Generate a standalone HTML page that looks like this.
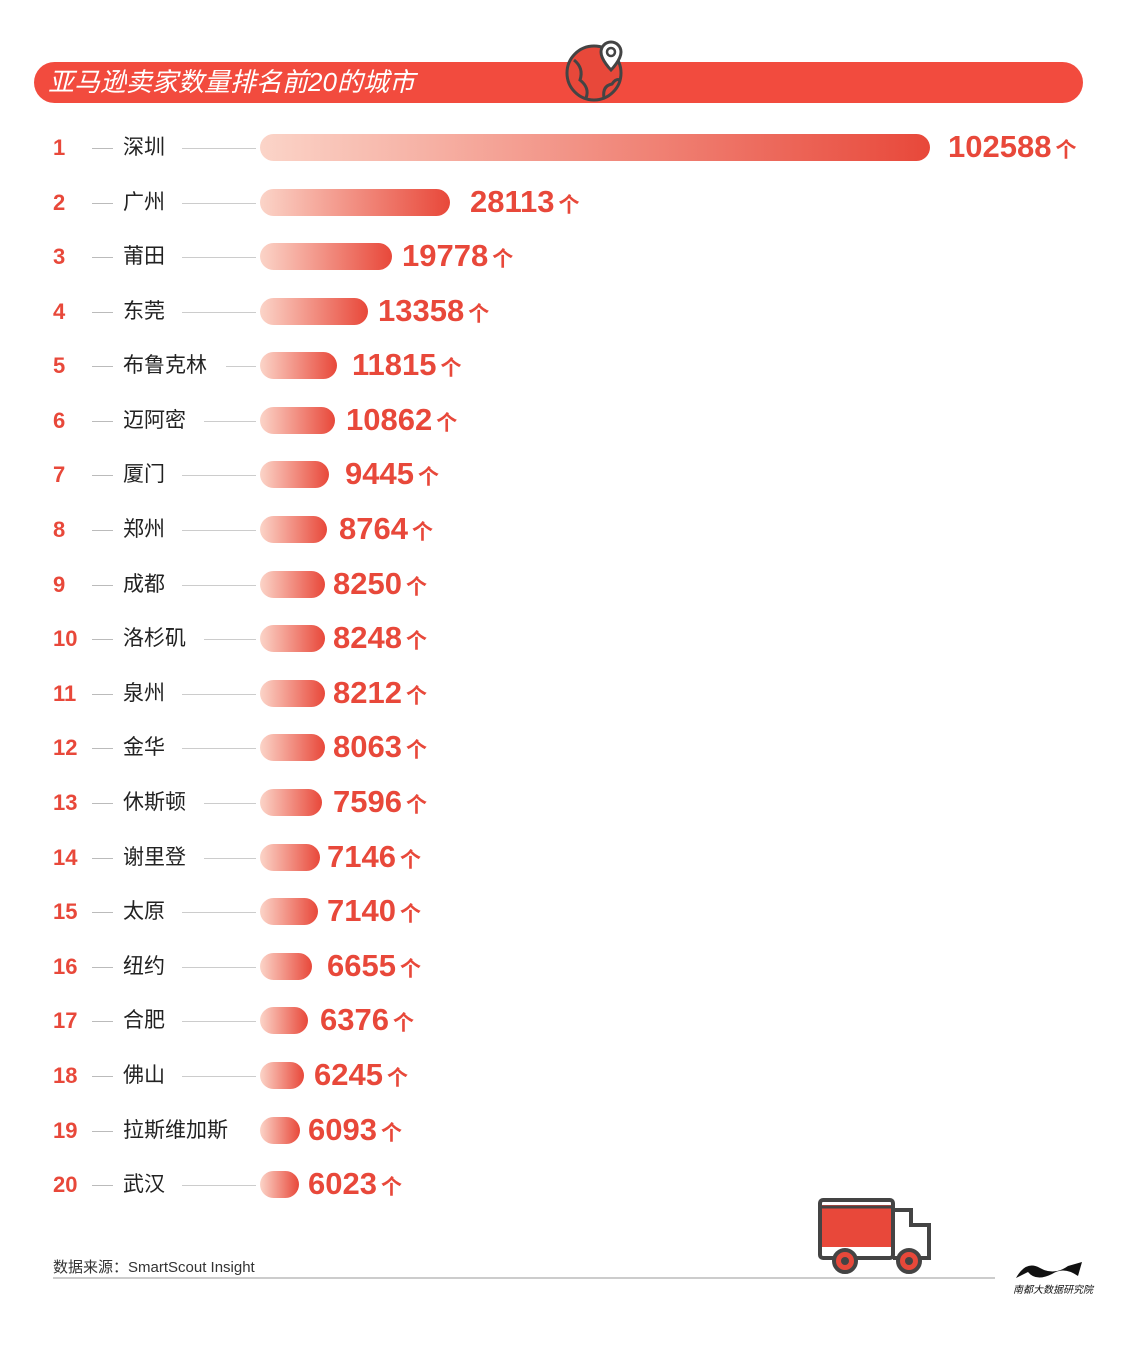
<!DOCTYPE html><html><head><meta charset="utf-8"><style>
body{margin:0;width:1123px;height:1360px;background:#fff;position:relative;overflow:hidden;font-family:"Liberation Sans","Noto Sans CJK SC",sans-serif}
.r{position:absolute;left:0;width:1123px;height:28px}
.n{position:absolute;left:53px;top:0;line-height:28px;font-size:22px;font-weight:bold;color:#e8483a}
.s{position:absolute;left:92px;top:14px;width:21px;border-top:1px solid #bbb}
.c{position:absolute;left:123px;top:0;line-height:28px;font-size:21px;color:#222}
.l{position:absolute;top:14px;right:867px;border-top:1px solid #ccc}
.b{position:absolute;left:260px;top:0;height:27px;border-radius:14px;background:linear-gradient(90deg,#fbd4c8,#e8483a)}
.v{position:absolute;top:-4px;line-height:34px;font-size:31px;font-weight:bold;color:#e8483a;white-space:nowrap}
.v i{font-style:normal;font-size:21px;margin-left:4px}
</style></head><body>
<div style="position:absolute;left:34px;top:62px;width:1049px;height:41px;border-radius:21px;background:#f24b3e"></div>
<div style="position:absolute;left:48px;top:64px;line-height:37px;font-size:26px;color:#fff;font-style:italic">亚马逊卖家数量排名前20的城市</div>
<svg style="position:absolute;left:560px;top:38px" width="70" height="70" viewBox="0 0 70 70"><circle cx="34" cy="35" r="27" fill="#e8483a" stroke="#444" stroke-width="3"/><path d="M14 22 Q24 30 20 42 Q30 50 26 60 M44 60 Q42 48 52 46 Q56 40 60 42" fill="none" stroke="#444" stroke-width="3"/><path d="M51 4 a10 10 0 0 1 10 10 c0 8 -10 18 -10 18 c0 0 -10 -10 -10 -18 a10 10 0 0 1 10 -10z" fill="#fff" stroke="#444" stroke-width="3"/><circle cx="51" cy="14" r="4" fill="none" stroke="#444" stroke-width="2.5"/></svg>

<div class="r" style="top:134px"><span class="n">1</span><span class="s"></span><span class="c">深圳</span><span class="l" style="left:182px;right:auto;width:74px"></span><span class="b" style="width:670px"></span><span class="v" style="left:948px">102588<i>个</i></span></div>
<div class="r" style="top:189px"><span class="n">2</span><span class="s"></span><span class="c">广州</span><span class="l" style="left:182px;right:auto;width:74px"></span><span class="b" style="width:190px"></span><span class="v" style="left:470px">28113<i>个</i></span></div>
<div class="r" style="top:243px"><span class="n">3</span><span class="s"></span><span class="c">莆田</span><span class="l" style="left:182px;right:auto;width:74px"></span><span class="b" style="width:132px"></span><span class="v" style="left:402px">19778<i>个</i></span></div>
<div class="r" style="top:298px"><span class="n">4</span><span class="s"></span><span class="c">东莞</span><span class="l" style="left:182px;right:auto;width:74px"></span><span class="b" style="width:108px"></span><span class="v" style="left:378px">13358<i>个</i></span></div>
<div class="r" style="top:352px"><span class="n">5</span><span class="s"></span><span class="c">布鲁克林</span><span class="l" style="left:226px;right:auto;width:30px"></span><span class="b" style="width:77px"></span><span class="v" style="left:352px">11815<i>个</i></span></div>
<div class="r" style="top:407px"><span class="n">6</span><span class="s"></span><span class="c">迈阿密</span><span class="l" style="left:204px;right:auto;width:52px"></span><span class="b" style="width:75px"></span><span class="v" style="left:346px">10862<i>个</i></span></div>
<div class="r" style="top:461px"><span class="n">7</span><span class="s"></span><span class="c">厦门</span><span class="l" style="left:182px;right:auto;width:74px"></span><span class="b" style="width:69px"></span><span class="v" style="left:345px">9445<i>个</i></span></div>
<div class="r" style="top:516px"><span class="n">8</span><span class="s"></span><span class="c">郑州</span><span class="l" style="left:182px;right:auto;width:74px"></span><span class="b" style="width:67px"></span><span class="v" style="left:339px">8764<i>个</i></span></div>
<div class="r" style="top:571px"><span class="n">9</span><span class="s"></span><span class="c">成都</span><span class="l" style="left:182px;right:auto;width:74px"></span><span class="b" style="width:65px"></span><span class="v" style="left:333px">8250<i>个</i></span></div>
<div class="r" style="top:625px"><span class="n">10</span><span class="s"></span><span class="c">洛杉矶</span><span class="l" style="left:204px;right:auto;width:52px"></span><span class="b" style="width:65px"></span><span class="v" style="left:333px">8248<i>个</i></span></div>
<div class="r" style="top:680px"><span class="n">11</span><span class="s"></span><span class="c">泉州</span><span class="l" style="left:182px;right:auto;width:74px"></span><span class="b" style="width:65px"></span><span class="v" style="left:333px">8212<i>个</i></span></div>
<div class="r" style="top:734px"><span class="n">12</span><span class="s"></span><span class="c">金华</span><span class="l" style="left:182px;right:auto;width:74px"></span><span class="b" style="width:65px"></span><span class="v" style="left:333px">8063<i>个</i></span></div>
<div class="r" style="top:789px"><span class="n">13</span><span class="s"></span><span class="c">休斯顿</span><span class="l" style="left:204px;right:auto;width:52px"></span><span class="b" style="width:62px"></span><span class="v" style="left:333px">7596<i>个</i></span></div>
<div class="r" style="top:844px"><span class="n">14</span><span class="s"></span><span class="c">谢里登</span><span class="l" style="left:204px;right:auto;width:52px"></span><span class="b" style="width:60px"></span><span class="v" style="left:327px">7146<i>个</i></span></div>
<div class="r" style="top:898px"><span class="n">15</span><span class="s"></span><span class="c">太原</span><span class="l" style="left:182px;right:auto;width:74px"></span><span class="b" style="width:58px"></span><span class="v" style="left:327px">7140<i>个</i></span></div>
<div class="r" style="top:953px"><span class="n">16</span><span class="s"></span><span class="c">纽约</span><span class="l" style="left:182px;right:auto;width:74px"></span><span class="b" style="width:52px"></span><span class="v" style="left:327px">6655<i>个</i></span></div>
<div class="r" style="top:1007px"><span class="n">17</span><span class="s"></span><span class="c">合肥</span><span class="l" style="left:182px;right:auto;width:74px"></span><span class="b" style="width:48px"></span><span class="v" style="left:320px">6376<i>个</i></span></div>
<div class="r" style="top:1062px"><span class="n">18</span><span class="s"></span><span class="c">佛山</span><span class="l" style="left:182px;right:auto;width:74px"></span><span class="b" style="width:44px"></span><span class="v" style="left:314px">6245<i>个</i></span></div>
<div class="r" style="top:1117px"><span class="n">19</span><span class="s"></span><span class="c">拉斯维加斯</span><span class="b" style="width:40px"></span><span class="v" style="left:308px">6093<i>个</i></span></div>
<div class="r" style="top:1171px"><span class="n">20</span><span class="s"></span><span class="c">武汉</span><span class="l" style="left:182px;right:auto;width:74px"></span><span class="b" style="width:39px"></span><span class="v" style="left:308px">6023<i>个</i></span></div>

<div style="position:absolute;left:53px;top:1256px;font-size:15px;color:#333">数据来源：SmartScout Insight</div>
<div style="position:absolute;left:53px;top:1277px;width:942px;border-top:2px solid #ccc"></div>
<svg style="position:absolute;left:815px;top:1195px" width="120" height="85" viewBox="0 0 120 85"><rect x="6" y="10" width="70" height="42" fill="#e8483a"/><rect x="5" y="5" width="73" height="58" rx="3" fill="none" stroke="#444" stroke-width="4"/><line x1="5" y1="12" x2="78" y2="12" stroke="#444" stroke-width="3"/><path d="M78 15 h18 v15 h18 v33 h-36" fill="none" stroke="#444" stroke-width="4"/><circle cx="30" cy="66" r="11" fill="#e8483a" stroke="#444" stroke-width="4"/><circle cx="30" cy="66" r="4" fill="#444"/><circle cx="94" cy="66" r="11" fill="#e8483a" stroke="#444" stroke-width="4"/><circle cx="94" cy="66" r="4" fill="#444"/></svg>
<svg style="position:absolute;left:1012px;top:1256px" width="74" height="26" viewBox="0 0 74 26"><path d="M4 22 Q14 4 28 12 Q42 20 56 10 L70 6 L66 20 Q52 10 40 18 Q24 26 16 16 Z" fill="#111"/></svg>
<div style="position:absolute;left:1013px;top:1281px;font-size:10px;color:#111;font-style:italic">南都大数据研究院</div>
</body></html>
